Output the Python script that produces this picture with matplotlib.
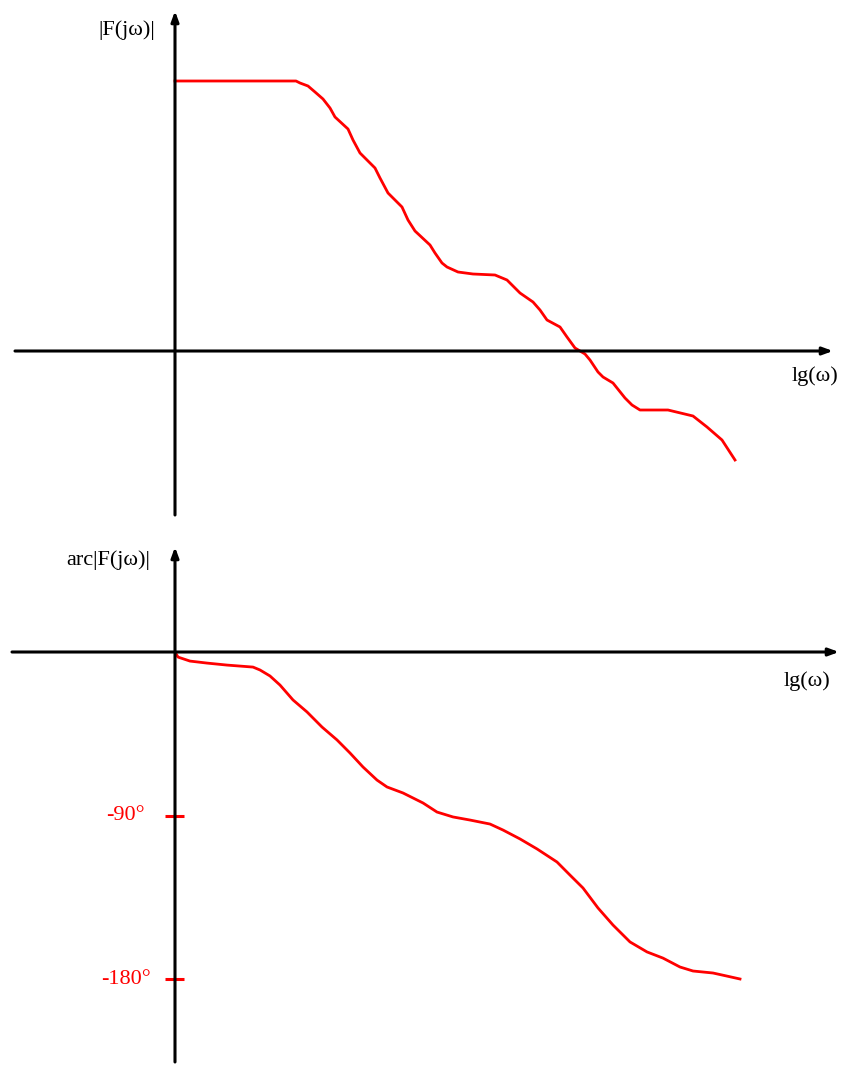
import matplotlib
matplotlib.use("Agg")
import matplotlib.pyplot as plt

# ---- data (lg(omega) in arbitrary units, origin at the axis crossing) ----
mag_lgw = [0.00, 1.21, 1.25, 1.33, 1.40, 1.48, 1.55, 1.60, 1.73, 1.78, 1.85, 2.00, 2.05,
           2.13, 2.27, 2.33, 2.40, 2.55, 2.60, 2.67, 2.72, 2.83, 2.98, 3.20, 3.32, 3.45,
           3.58, 3.65, 3.72, 3.85, 3.92, 4.00, 4.10, 4.15, 4.23, 4.28, 4.38, 4.50, 4.57,
           4.65, 4.93, 5.18, 5.32, 5.47, 5.60]
mag_val = [2.70, 2.70, 2.68, 2.65, 2.59, 2.52, 2.43, 2.34, 2.22, 2.11, 1.98, 1.83, 1.73,
           1.58, 1.44, 1.31, 1.20, 1.06, 0.98, 0.88, 0.84, 0.79, 0.77, 0.76, 0.71, 0.58,
           0.49, 0.41, 0.31, 0.24, 0.14, 0.03, -0.03, -0.09, -0.21, -0.26, -0.32, -0.47,
           -0.54, -0.59, -0.59, -0.65, -0.76, -0.89, -1.09]

ph_lgw = [0.00, 0.03, 0.15, 0.32, 0.52, 0.78, 0.85, 0.95, 1.05, 1.18, 1.32, 1.47, 1.62,
          1.75, 1.88, 2.02, 2.12, 2.28, 2.48, 2.62, 2.78, 2.95, 3.15, 3.28, 3.45, 3.62,
          3.82, 3.95, 4.08, 4.23, 4.38, 4.55, 4.72, 4.88, 5.05, 5.18, 5.38, 5.52, 5.65]
ph_deg = [0.0, -2.8, -5.0, -6.1, -7.2, -8.3, -9.9, -13.2, -18.2, -26.4, -33.0, -41.3, -48.4,
          -55.6, -63.3, -70.5, -74.3, -77.6, -83.1, -88.1, -90.8, -92.5, -94.7, -98.0,
          -102.9, -108.4, -115.6, -122.8, -129.9, -140.9, -150.3, -159.6, -165.1, -168.5,
          -173.4, -175.6, -176.7, -178.4, -180.0]

phase_ticks = [-90, -180]
phase_tick_labels = ["-90°", "-180°"]

W, H = 850, 1075
fig = plt.figure(figsize=(W / 100, H / 100), dpi=100)

serif = ["Liberation Serif", "DejaVu Serif"]
red = "#ff0000"
axis_lw = 2.2
curve_lw = 2.0
fs = 16

def arrow(ax, x0, y0, x1, y1):
    ax.annotate("", xy=(x1, y1), xytext=(x0, y0),
                arrowprops=dict(arrowstyle="-|>,head_length=0.6,head_width=0.22",
                                lw=axis_lw, color="black", shrinkA=0, shrinkB=0))

# ---- top panel: covers pixel rows 0..530 ----
ax1 = fig.add_axes([0, (H - 530) / H, 1, 530 / H])
ax1.set_xlim(-1.75, 6.75)
ax1.set_ylim(-1.79, 3.51)
ax1.axis("off")
arrow(ax1, -1.60, 0, 6.58, 0)
arrow(ax1, 0, -1.64, 0, 3.40)
ax1.plot(mag_lgw, mag_val, color=red, lw=curve_lw, solid_joinstyle="round")
ax1.text(-0.20, 3.21, "|F(jω)|", ha="right", va="center", fontsize=fs, family=serif)
ax1.text(6.63, -0.25, "lg(ω)", ha="right", va="center", fontsize=fs, family=serif)

# ---- bottom panel: covers pixel rows 530..1075 ----
ax2 = fig.add_axes([0, 0, 1, 545 / H])
k = 90 / 163.5
ax2.set_xlim(-1.75, 6.75)
ax2.set_ylim(-(1075 - 652) * k, (652 - 530) * k)
ax2.axis("off")
arrow(ax2, -1.63, 0, 6.64, 0)
arrow(ax2, 0, -(1062 - 652) * k, 0, (652 - 547) * k)
ax2.plot(ph_lgw, ph_deg, color=red, lw=curve_lw, solid_joinstyle="round")
for t, lab in zip(phase_ticks, phase_tick_labels):
    ax2.plot([-0.10, 0.09], [t, t], color=red, lw=axis_lw, solid_capstyle="butt")
    ax2.text(-0.495, t, lab, ha="center", va="center", fontsize=fs, color=red, family=serif)
ax2.text(-0.25, (652 - 560) * k, "arc|F(jω)|", ha="right", va="center", fontsize=fs, family=serif)
ax2.text(6.55, -(681 - 652) * k, "lg(ω)", ha="right", va="center", fontsize=fs, family=serif)

fig.savefig("out.png", dpi=100, facecolor="white")
